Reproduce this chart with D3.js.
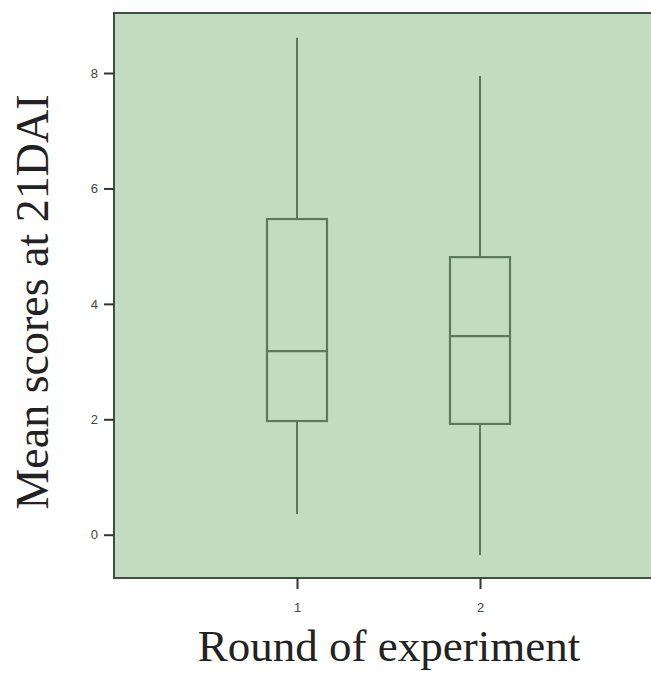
<!DOCTYPE html>
<html>
<head>
<meta charset="utf-8">
<script src="https://cdn.jsdelivr.net/npm/d3@7"></script>
<style>
  body { margin: 0; background: #fff; }
  svg { display: block; }
</style>
</head>
<body>
<div id="chart"></div>
<script>
// values
var rounds = ["1", "2"];
var whiskerLow = [0.36, -0.35];
var q1 = [1.97, 1.92];
var medians = [3.18, 3.44];
var q3 = [5.47, 4.81];
var whiskerHigh = [8.61, 7.95];
var yTicks = [0, 2, 4, 6, 8];

var boxes = rounds.map(function (r, i) {
  return { round: +r, lo: whiskerLow[i], q1: q1[i], med: medians[i], q3: q3[i], hi: whiskerHigh[i] };
});

var width = 651, height = 674;
var plot = { left: 114, top: 13, right: 663, bottom: 578 };

var svg = d3.select("#chart").append("svg")
  .attr("width", width)
  .attr("height", height);

var x = d3.scaleLinear().domain([0, 3]).range([plot.left, plot.right]);
var y = d3.scaleLinear().domain([-0.75, 9.04]).range([plot.bottom, plot.top]);

var lineColor = "#5b7a5c";
var frameColor = "#3f4f40";

// plot background
svg.append("rect")
  .attr("x", plot.left).attr("y", plot.top)
  .attr("width", plot.right - plot.left)
  .attr("height", plot.bottom - plot.top)
  .attr("fill", "#c2dcc0")
  .attr("stroke", frameColor)
  .attr("stroke-width", 2);

// whiskers
svg.selectAll(".whisker")
  .data(boxes)
  .enter().append("line")
  .attr("x1", function (d) { return x(d.round); })
  .attr("x2", function (d) { return x(d.round); })
  .attr("y1", function (d) { return y(d.lo); })
  .attr("y2", function (d) { return y(d.hi); })
  .attr("stroke", lineColor)
  .attr("stroke-width", 2);

var boxW = 60;
svg.selectAll(".box")
  .data(boxes)
  .enter().append("rect")
  .attr("x", function (d) { return x(d.round) - boxW / 2; })
  .attr("width", boxW)
  .attr("y", function (d) { return y(d.q3); })
  .attr("height", function (d) { return y(d.q1) - y(d.q3); })
  .attr("fill", "#c2dcc0")
  .attr("stroke", lineColor)
  .attr("stroke-width", 2.2);

svg.selectAll(".median")
  .data(boxes)
  .enter().append("line")
  .attr("x1", function (d) { return x(d.round) - boxW / 2; })
  .attr("x2", function (d) { return x(d.round) + boxW / 2; })
  .attr("y1", function (d) { return y(d.med); })
  .attr("y2", function (d) { return y(d.med); })
  .attr("stroke", lineColor)
  .attr("stroke-width", 2.2);

// axes
var yAxis = svg.append("g")
  .attr("transform", "translate(" + plot.left + ",0)")
  .call(d3.axisLeft(y).tickValues(yTicks).tickSize(10).tickPadding(6));

var xAxis = svg.append("g")
  .attr("transform", "translate(0," + plot.bottom + ")")
  .call(d3.axisBottom(x).tickValues(rounds.map(Number)).tickFormat(d3.format("d"))
    .tickSize(11).tickPadding(14));

[yAxis, xAxis].forEach(function (g) {
  g.select(".domain").remove();
  g.selectAll(".tick line").attr("stroke", "#333").attr("stroke-width", 2);
  g.selectAll(".tick text")
    .attr("fill", "#444")
    .style("font-family", "'Liberation Sans', Arial, sans-serif")
    .style("font-size", "13px");
});

// titles
svg.append("text")
  .attr("x", 389)
  .attr("y", 661)
  .attr("text-anchor", "middle")
  .style("font-family", "'Liberation Serif', 'Times New Roman', serif")
  .style("font-size", "45px")
  .attr("fill", "#222")
  .text("Round of experiment");

svg.append("text")
  .attr("transform", "translate(48,302) rotate(-90)")
  .attr("text-anchor", "middle")
  .style("font-family", "'Liberation Serif', 'Times New Roman', serif")
  .style("font-size", "46px")
  .attr("fill", "#222")
  .text("Mean scores at 21DAI");
</script>
</body>
</html>
